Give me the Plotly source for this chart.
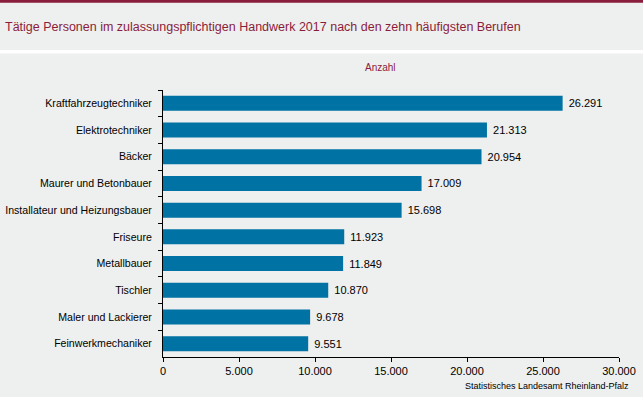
import plotly.graph_objects as go

categories = ["Kraftfahrzeugtechniker", "Elektrotechniker", "Bäcker", "Maurer und Betonbauer",
              "Installateur und Heizungsbauer", "Friseure", "Metallbauer", "Tischler",
              "Maler und Lackierer", "Feinwerkmechaniker"]
values = [26291, 21313, 20954, 17009, 15698, 11923, 11849, 10870, 9678, 9551]
x_ticks = [0, 5000, 10000, 15000, 20000, 25000, 30000]

W, H = 643, 397
L, R, T, B = 163, 619, 89.5, 357.3
pw, ph = R - L, B - T


def xp(px):
    return (px - L) / pw


def yp(py):
    return (B - py) / ph


maroon = "#8a1d3b"
font = "Liberation Sans, Arial, sans-serif"

fig = go.Figure(go.Bar(
    y=categories, x=values, orientation="h",
    marker=dict(color="#0072a3", line=dict(width=0)),
    text=values, texttemplate=" %{x:,}", textposition="outside",
    textfont=dict(size=11, color="#000000", family=font),
    cliponaxis=False, hoverinfo="skip",
))

fig.update_layout(
    width=W, height=H,
    margin=dict(l=L, r=W - R, t=T, b=H - B, autoexpand=False),
    paper_bgcolor="#eeefef", plot_bgcolor="#eeefef",
    separators=",.",
    bargap=0.44,
    showlegend=False,
    font=dict(family=font, size=11, color="#000000"),
    xaxis=dict(range=[0, 30000], tickvals=x_ticks, tickformat=",", showgrid=False, zeroline=False,
               showline=True, linecolor="#000000", linewidth=1, ticks="outside", ticklen=4,
               tickcolor="#000000", tickfont=dict(size=11, color="#000000")),
    yaxis=dict(autorange="reversed", showgrid=False, zeroline=False, showline=True,
               linecolor="#000000", linewidth=1, ticks="outside", ticklen=4, tickcolor="#000000",
               tickson="boundaries", tickfont=dict(size=10.6, color="#000000"), ticklabelstandoff=8),
    shapes=[
        dict(type="rect", xref="paper", yref="paper", x0=xp(-5), x1=xp(W + 5), y0=yp(2), y1=yp(-5),
             fillcolor=maroon, line=dict(width=0), layer="above"),
        dict(type="rect", xref="paper", yref="paper", x0=xp(-5), x1=xp(W + 5), y0=yp(53), y1=yp(49.5),
             fillcolor="#ffffff", line=dict(width=0), layer="above"),
    ],
    annotations=[
        dict(text="Tätige Personen im zulassungspflichtigen Handwerk 2017 nach den zehn häufigsten Berufen",
             xref="paper", yref="paper", x=xp(3), y=yp(26.5), xanchor="left", yanchor="middle",
             showarrow=False, font=dict(size=12.5, color=maroon, family=font)),
        dict(text="Anzahl", xref="paper", yref="paper", x=xp(380), y=yp(67), xanchor="center",
             yanchor="middle", showarrow=False, font=dict(size=10, color=maroon, family=font)),
        dict(text="Statistisches Landesamt Rheinland-Pfalz", xref="paper", yref="paper", x=xp(631),
             y=yp(386), xanchor="right", yanchor="middle", showarrow=False,
             font=dict(size=9, color="#000000", family=font)),
    ],
)

fig.write_html("out.html", config={"displayModeBar": False},
               post_script="document.body.style.margin='0';document.body.style.overflow='hidden';")
